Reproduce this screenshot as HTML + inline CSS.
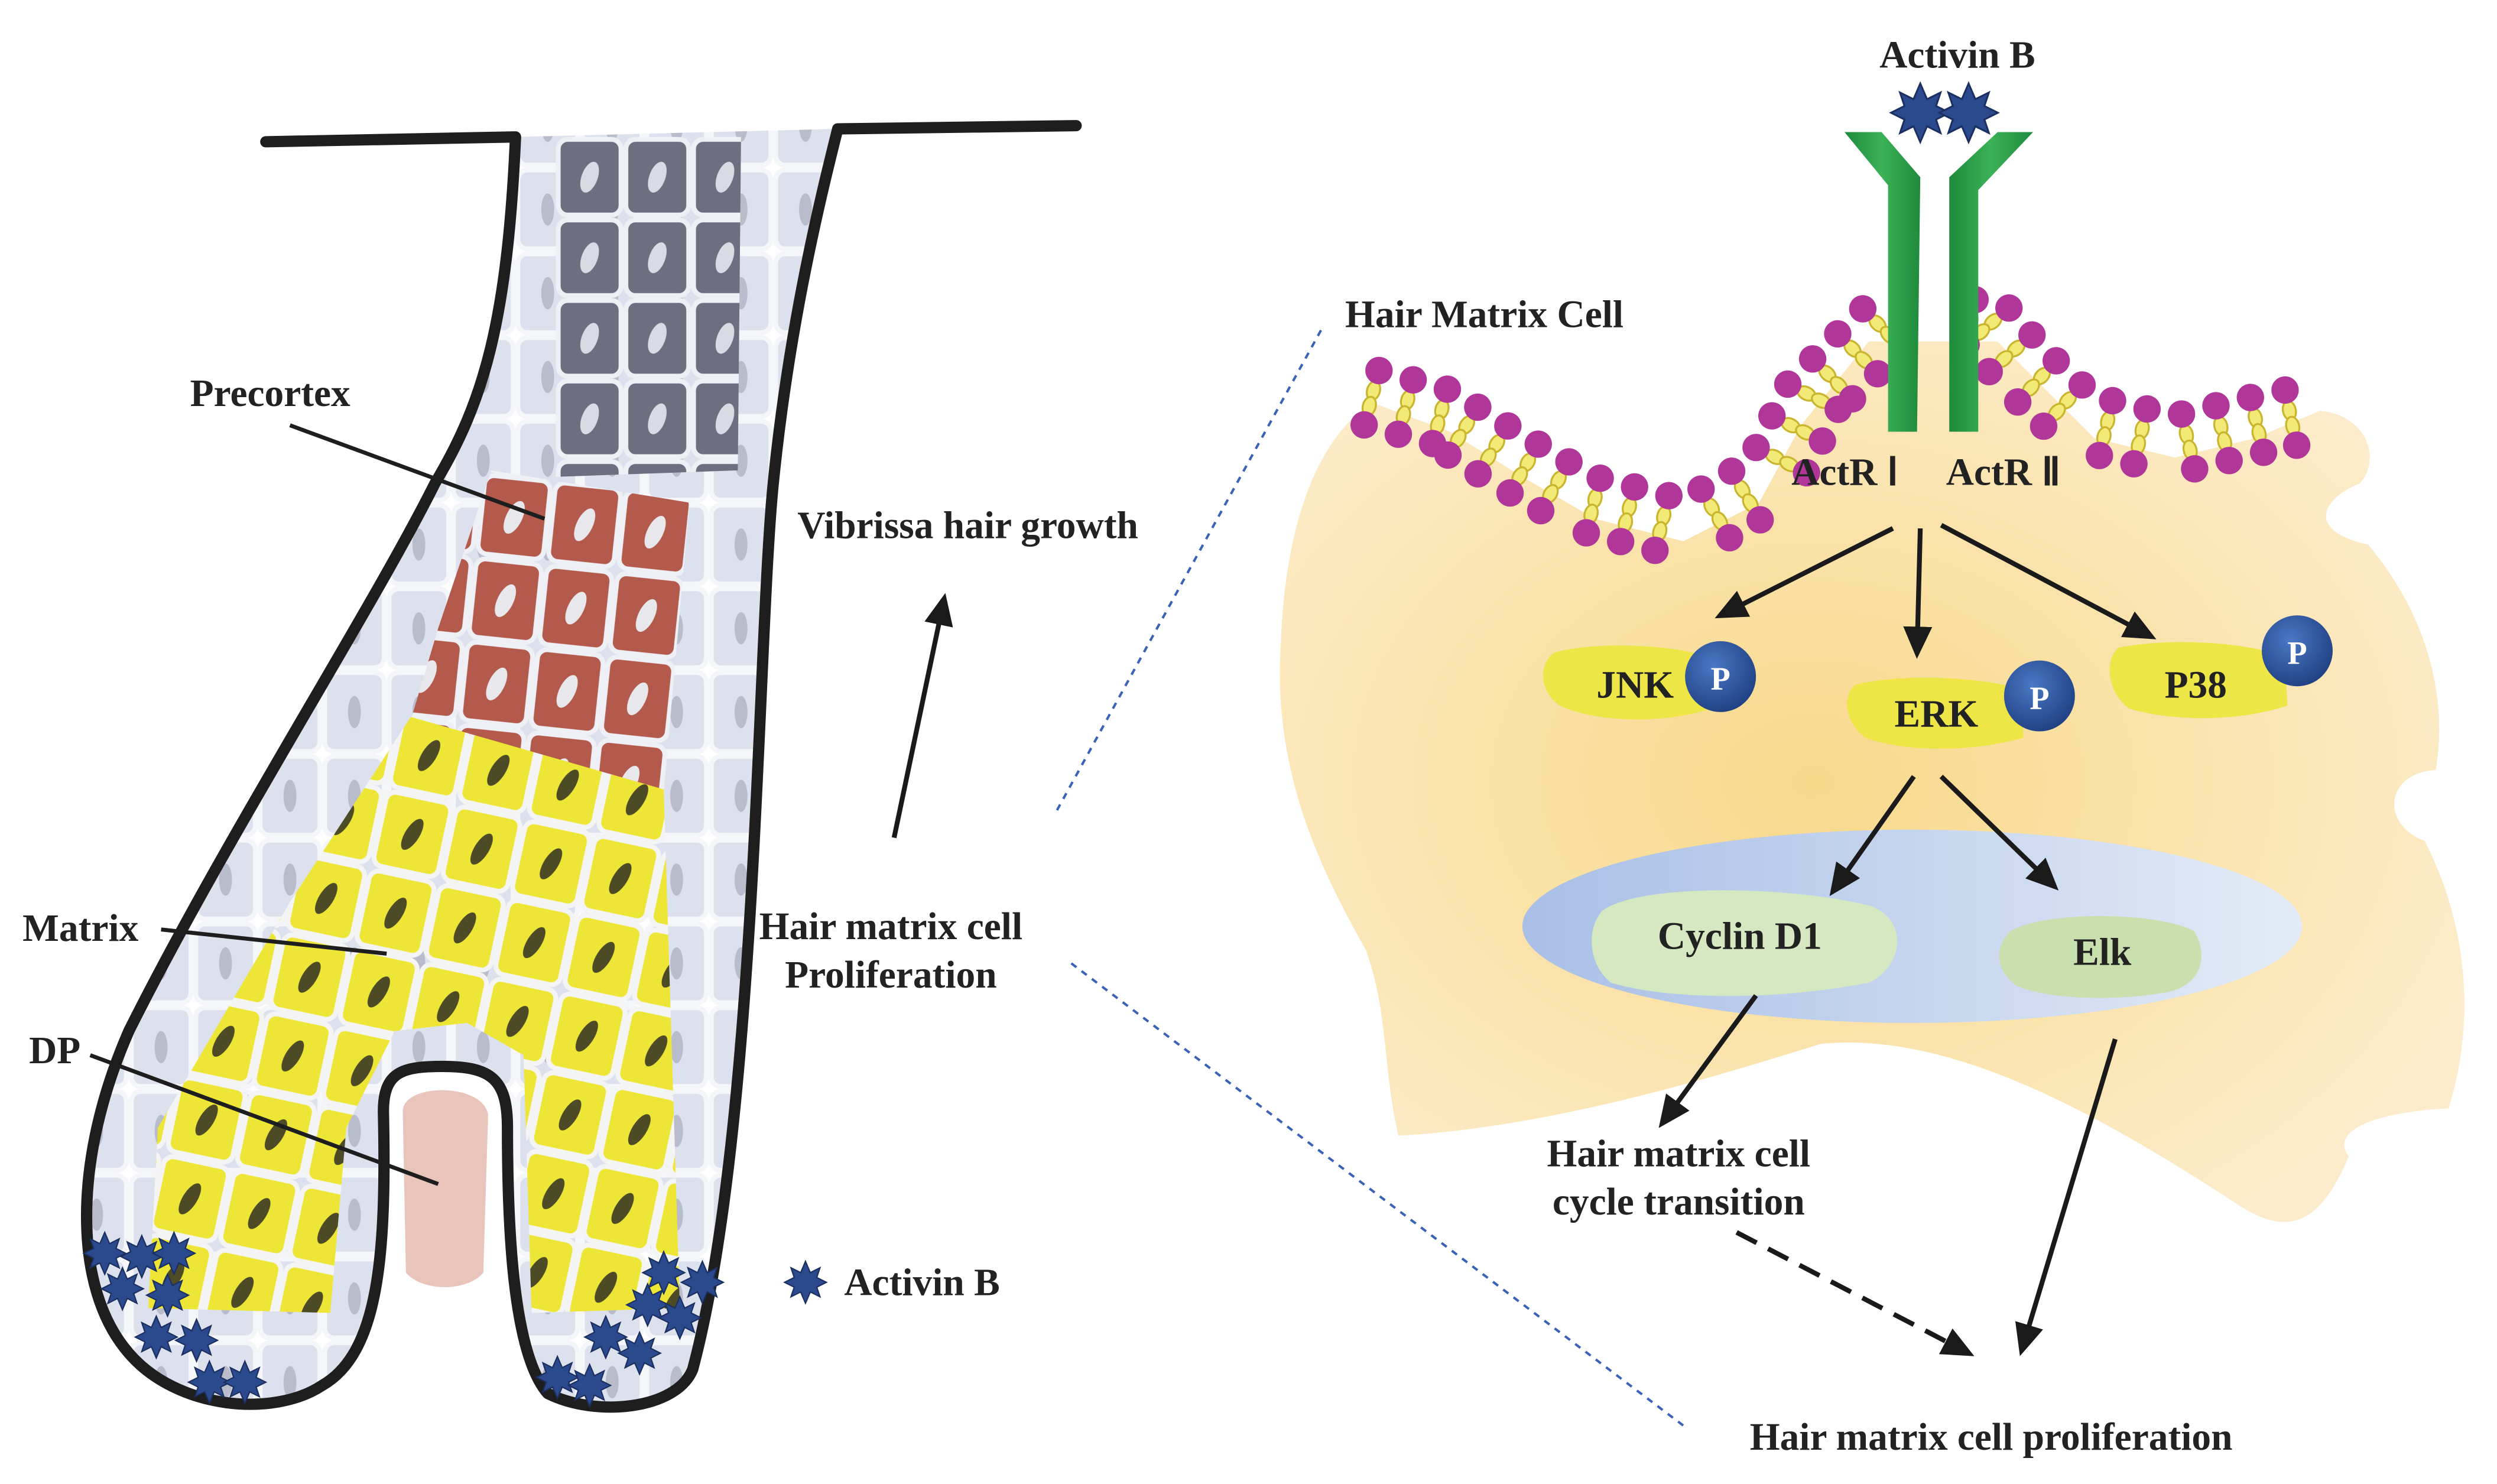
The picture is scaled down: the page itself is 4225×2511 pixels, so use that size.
<!DOCTYPE html>
<html><head><meta charset="utf-8"><style>
html,body{margin:0;padding:0;background:#fff;}
svg{display:block;}
text{font-family:"Liberation Serif",serif;font-weight:bold;fill:#222;}
</style></head><body>
<svg id="s" width="4225" height="2511" viewBox="0 0 1550 921.2" preserveAspectRatio="none" xmlns="http://www.w3.org/2000/svg">
<defs>
<marker id="ah2" markerWidth="20" markerHeight="20" refX="16" refY="10" orient="auto" markerUnits="userSpaceOnUse" viewBox="0 0 20 20">
<path d="M0,1 L20,10 L0,19 Z" fill="#1a1a1a"/></marker>
<path id="star" d="M0,-13 L3,-6 L9,-9 L7,-3 L13,0 L7,3 L9,9 L3,6 L0,13 L-3,6 L-9,9 L-7,3 L-13,0 L-7,-3 L-9,-9 L-3,-6 Z" fill="#2b4a8e" stroke="#1b2f60" stroke-width="0.8"/>
<pattern id="pg" width="42" height="50" patternUnits="userSpaceOnUse" patternTransform="translate(345,85)">
<rect x="1.5" y="1.5" width="39" height="47" rx="6" fill="#6d6f80" stroke="#eef0f6" stroke-width="3"/>
<ellipse cx="21" cy="25" rx="5" ry="10" fill="#d9dbe4" transform="rotate(20 21 25)"/></pattern>
<pattern id="pr" width="44" height="52" patternUnits="userSpaceOnUse" patternTransform="translate(300,293) rotate(6)">
<rect x="1.5" y="1.5" width="41" height="49" rx="6" fill="#b45a4c" stroke="#eef0f6" stroke-width="3"/>
<ellipse cx="22" cy="26" rx="5" ry="11" fill="#e8e8ec" transform="rotate(20 22 26)"/></pattern>
<pattern id="py" width="44" height="50" patternUnits="userSpaceOnUse" patternTransform="translate(250,440) rotate(12)">
<rect x="1.5" y="1.5" width="41" height="47" rx="6" fill="#eee637" stroke="#f4f4f4" stroke-width="3"/>
<ellipse cx="22" cy="25" rx="4.5" ry="11" fill="#4d4a26" transform="rotate(20 22 25)"/></pattern>
<pattern id="pl" width="40" height="52" patternUnits="userSpaceOnUse">
<rect x="1.5" y="1.5" width="37" height="49" rx="6" fill="#dde1ee" stroke="#f5f6fa" stroke-width="3"/>
<ellipse cx="20" cy="26" rx="4" ry="10" fill="#b9bccb"/></pattern>
<radialGradient id="cg" cx="0.45" cy="0.5" r="0.6">
<stop offset="0" stop-color="#f7d98a"/><stop offset="1" stop-color="#fdeccb"/></radialGradient>
<linearGradient id="ng" x1="0" x2="1" y1="0" y2="0">
<stop offset="0" stop-color="#a9bfe6"/><stop offset="1" stop-color="#e3ebf6"/></linearGradient>
<linearGradient id="gg" x1="0" x2="1"><stop offset="0" stop-color="#1f8a3c"/><stop offset="0.5" stop-color="#3bb257"/><stop offset="1" stop-color="#1f8a3c"/></linearGradient>
<radialGradient id="pgc" cx="0.4" cy="0.35" r="0.7"><stop offset="0" stop-color="#4a78c4"/><stop offset="1" stop-color="#1f3f82"/></radialGradient>
<clipPath id="fol"><path d="M320,85 C315,200 300,250 270,300 C230,380 140,520 80,640 C45,720 45,800 80,840 C110,875 170,880 200,860 C235,840 240,780 238,690 C238,665 250,662 275,662 C305,662 315,670 315,700 C315,760 318,840 340,865 C370,880 420,875 430,850 C470,700 470,400 480,300 C490,200 510,120 520,80 Z"/></clipPath>
</defs>

<g clip-path="url(#fol)">
<rect x="0" y="0" width="700" height="921" fill="url(#pl)"/>
<polygon points="345,85 460,85 458,292 345,296" fill="url(#pg)"/>
<polygon points="305,292 428,312 412,492 255,447 272,390" fill="url(#pr)"/>
<polygon points="255,445 412,490 422,812 330,815 325,655 290,635 245,640 215,700 205,815 92,812 98,700 180,560" fill="url(#py)"/>
</g>
<path d="M250,690 C250,672 300,672 303,692 L300,790 C290,802 262,802 252,790 Z" fill="#e9c4bb"/>
<path d="M320,85 C315,200 300,250 270,300 C230,380 140,520 80,640 C45,720 45,800 80,840 C110,875 170,880 200,860 C235,840 240,780 238,690 C238,665 250,662 275,662 C305,662 315,670 315,700 C315,760 318,840 340,865 C370,880 420,875 430,850 C470,700 470,400 480,300 C490,200 510,120 520,80" fill="none" stroke="#1e1e1e" stroke-width="7" stroke-linejoin="round"/>
<path d="M165,88 L320,85 M520,80 L668,78" stroke="#1e1e1e" stroke-width="7" fill="none" stroke-linecap="round"/>
<g id="lstars"></g>

<text x="118" y="252" font-size="24">Precortex</text>
<line x1="180" y1="264" x2="338" y2="322" stroke="#1e1e1e" stroke-width="2.5"/>
<text x="14" y="584" font-size="24">Matrix</text>
<line x1="100" y1="577" x2="240" y2="592" stroke="#1e1e1e" stroke-width="2.5"/>
<text x="18" y="660" font-size="24">DP</text>
<line x1="56" y1="655" x2="272" y2="735" stroke="#1e1e1e" stroke-width="2.5"/>

<text x="495" y="334" font-size="24">Vibrissa hair growth</text>
<line x1="555" y1="520" x2="586" y2="372" stroke="#1a1a1a" stroke-width="3" marker-end="url(#ah2)"/>
<text x="553" y="583" font-size="24" text-anchor="middle">Hair matrix cell</text>
<text x="553" y="613" font-size="24" text-anchor="middle">Proliferation</text>
<use href="#star" x="500" y="796"/>
<text x="524" y="804" font-size="24">Activin B</text>

<line x1="820" y1="205" x2="655" y2="505" stroke="#3a63b8" stroke-width="1.5" stroke-dasharray="4,4"/>
<line x1="665" y1="598" x2="1045" y2="885" stroke="#3a63b8" stroke-width="1.5" stroke-dasharray="4,4"/>

<path d="M852,250 L900,268 L945,296 L990,322 L1045,336 L1092,312 L1118,264 L1160,212 L1240,212 L1272,244 L1300,272 L1350,284 L1400,272 L1440,255 C1470,258 1478,285 1465,300 C1440,310 1432,330 1470,338 C1505,380 1520,430 1512,478 C1480,480 1478,512 1505,522 C1530,570 1538,630 1520,688 C1480,690 1445,700 1458,718 C1440,760 1420,770 1385,745 C1300,690 1210,640 1130,648 C1060,670 960,700 868,705 C858,660 862,630 848,590 C820,540 790,480 795,400 C798,320 820,270 852,250 Z" fill="url(#cg)"/>
<g id="mem"></g>

<polygon points="1145,82 1168,82 1192,110 1190,268 1172,268 1172,115" fill="url(#gg)"/>
<polygon points="1240,82 1262,82 1228,118 1228,268 1210,268 1210,110" fill="url(#gg)"/>
<use href="#star" x="1192" y="70" transform="translate(1192 70) scale(1.4) translate(-1192 -70)"/>
<use href="#star" x="1222" y="70" transform="translate(1222 70) scale(1.4) translate(-1222 -70)"/>
<text x="1215" y="42" font-size="24" text-anchor="middle">Activin B</text>
<text x="835" y="203" font-size="24">Hair Matrix Cell</text>
<text x="1112" y="301" font-size="24">ActR Ⅰ</text>
<text x="1208" y="301" font-size="24">ActR Ⅱ</text>

<line x1="1175" y1="328" x2="1068" y2="382" stroke="#1a1a1a" stroke-width="3" marker-end="url(#ah2)"/>
<line x1="1192" y1="328" x2="1190" y2="405" stroke="#1a1a1a" stroke-width="3" marker-end="url(#ah2)"/>
<line x1="1205" y1="326" x2="1335" y2="395" stroke="#1a1a1a" stroke-width="3" marker-end="url(#ah2)"/>

<path d="M965,405 C990,398 1040,400 1060,408 L1062,440 C1030,450 990,448 968,438 C955,428 955,412 965,405 Z" fill="#ede646"/>
<text x="1015" y="433" font-size="24" text-anchor="middle">JNK</text>
<circle cx="1068" cy="420" r="22" fill="url(#pgc)"/><text x="1068" y="428" font-size="20" style="fill:#fff" text-anchor="middle">P</text>
<path d="M1152,425 C1180,418 1230,420 1255,428 L1256,458 C1220,468 1180,466 1158,458 C1145,448 1143,432 1152,425 Z" fill="#ede646"/>
<text x="1202" y="451" font-size="24" text-anchor="middle">ERK</text>
<circle cx="1266" cy="432" r="22" fill="url(#pgc)"/><text x="1266" y="440" font-size="20" style="fill:#fff" text-anchor="middle">P</text>
<path d="M1315,402 C1345,396 1395,398 1418,408 L1420,438 C1390,448 1350,448 1322,440 C1308,430 1306,410 1315,402 Z" fill="#ede646"/>
<text x="1363" y="433" font-size="24" text-anchor="middle">P38</text>
<circle cx="1426" cy="404" r="22" fill="url(#pgc)"/><text x="1426" y="412" font-size="20" style="fill:#fff" text-anchor="middle">P</text>

<ellipse cx="1187" cy="575" rx="242" ry="60" fill="url(#ng)"/>
<line x1="1188" y1="482" x2="1138" y2="553" stroke="#1a1a1a" stroke-width="3" marker-end="url(#ah2)"/>
<line x1="1205" y1="482" x2="1275" y2="550" stroke="#1a1a1a" stroke-width="3" marker-end="url(#ah2)"/>
<path d="M995,565 C1020,548 1110,550 1160,562 C1185,570 1182,600 1160,610 C1110,620 1040,622 1000,610 C985,598 985,575 995,565 Z" fill="#d5e8c2"/>
<text x="1080" y="589" font-size="24" text-anchor="middle">Cyclin D1</text>
<path d="M1248,578 C1270,565 1340,566 1362,578 C1372,595 1365,612 1345,616 C1310,622 1270,620 1252,612 C1238,602 1238,588 1248,578 Z" fill="#c8e0ad"/>
<text x="1305" y="599" font-size="24" text-anchor="middle">Elk</text>

<line x1="1090" y1="618" x2="1032" y2="697" stroke="#1a1a1a" stroke-width="3" marker-end="url(#ah2)"/>
<text x="1042" y="724" font-size="24" text-anchor="middle">Hair matrix cell</text>
<text x="1042" y="754" font-size="24" text-anchor="middle">cycle transition</text>
<line x1="1078" y1="765" x2="1222" y2="840" stroke="#1a1a1a" stroke-width="3" stroke-dasharray="14,8" marker-end="url(#ah2)"/>
<line x1="1313" y1="645" x2="1255" y2="838" stroke="#1a1a1a" stroke-width="3" marker-end="url(#ah2)"/>
<text x="1236" y="900" font-size="24" text-anchor="middle">Hair matrix cell proliferation</text>
</svg>
<script>
(function(){
var NS="http://www.w3.org/2000/svg";
function el(t,a,p){var e=document.createElementNS(NS,t);for(var k in a)e.setAttribute(k,a[k]);p.appendChild(e);return e;}
var mem=document.getElementById("mem");
function draw(pts){
  var step=22,carry=0;
  for(var i=0;i<pts.length-1;i++){
    var a=pts[i],b=pts[i+1],dx=b[0]-a[0],dy=b[1]-a[1],L=Math.hypot(dx,dy);
    var nx=-dy/L,ny=dx/L,ang=Math.atan2(ny,nx)*180/Math.PI+90;
    for(var d=carry;d<L;d+=step){
      var x=a[0]+dx*d/L,y=a[1]+dy*d/L;
      [13,23].forEach(function(o){var cx=x+nx*o,cy=y+ny*o;
        el("ellipse",{cx:cx,cy:cy,rx:4,ry:6,fill:"#f3e976",stroke:"#c9b52e","stroke-width":1.2,transform:"rotate("+ang+" "+cx+" "+cy+")"},mem);});
      el("circle",{cx:x,cy:y,r:8.5,fill:"#b1369a"},mem);
      el("circle",{cx:x+nx*35,cy:y+ny*35,r:8.5,fill:"#b1369a"},mem);
      carry=d+step-L;
    }
  }
}
draw([[856,230],[900,242],[945,270],[990,296],[1045,310],[1086,286],[1110,238],[1160,188],[1176,186]]);
draw([[1226,186],[1246,190],[1270,218],[1300,246],[1350,258],[1400,246],[1438,238]]);
var st=[[65,778],[88,780],[76,800],[104,804],[97,830],[122,832],[130,858],[152,858],[108,778],[412,790],[436,796],[402,810],[422,818],[376,830],[397,840],[346,855],[366,860]];
var g=document.getElementById("lstars");
st.forEach(function(p){el("use",{href:"#star",x:p[0],y:p[1]},g);});
})();
</script>
</body></html>
